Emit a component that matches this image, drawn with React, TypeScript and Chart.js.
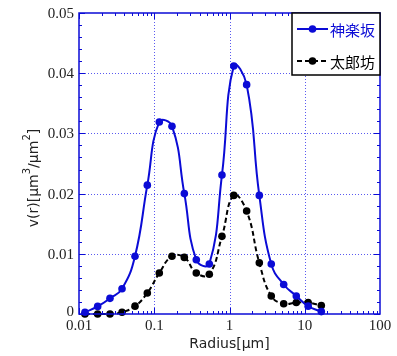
import React, { useEffect, useRef } from 'react';
import { Chart, registerables } from 'chart.js';
Chart.register(...registerables);

const radius = [0.012, 0.0177, 0.0258, 0.0373, 0.0555, 0.0809, 0.1167, 0.172, 0.251, 0.362, 0.539, 0.794, 1.14, 1.69, 2.49, 3.59, 5.25, 7.72, 11.1, 16.6];
const kagurazaka = [0.0003, 0.00126, 0.0026, 0.0042, 0.0096, 0.0214, 0.0319, 0.0312, 0.02, 0.009, 0.0083, 0.0231, 0.0412, 0.0381, 0.0197, 0.0083, 0.0049, 0.003, 0.0013, 0.0004];
const taroubou = [0.0, 0.0, 0.0, 0.0003, 0.0013, 0.0035, 0.0068, 0.0096, 0.0094, 0.0068, 0.0066, 0.0129, 0.0197, 0.0171, 0.0085, 0.003, 0.0017, 0.0019, 0.0019, 0.0014];
const seriesNames = ['神楽坂', '太郎坊'];
const xTicks = [0.01, 0.1, 1, 10, 100];
const xTickLabels = ['0.01', '0.1', '1', '10', '100'];
const yTicks = [0, 0.01, 0.02, 0.03, 0.04, 0.05];
const yTickLabels = ['0', '0.01', '0.02', '0.03', '0.04', '0.05'];

const BLUE = '#0b0bd6';
const GRID = '#5a5af0';
const SERIF = '"Liberation Serif", "DejaVu Serif", serif';
const SANS = '"DejaVu Sans", sans-serif';

const framePlugin = {
  id: 'frame',
  beforeDatasetsDraw(chart: any) {
    const { ctx, chartArea: a, scales } = chart;
    const x = scales.x, y = scales.y;
    ctx.save();
    ctx.strokeStyle = GRID;
    ctx.lineWidth = 1;
    ctx.setLineDash([1, 2]);
    for (const v of xTicks.slice(1, -1)) {
      const px = Math.round(x.getPixelForValue(v)) + 0.5;
      ctx.beginPath(); ctx.moveTo(px, a.top); ctx.lineTo(px, a.bottom); ctx.stroke();
    }
    for (const v of yTicks.slice(1, -1)) {
      const py = Math.round(y.getPixelForValue(v)) + 0.5;
      ctx.beginPath(); ctx.moveTo(a.left, py); ctx.lineTo(a.right, py); ctx.stroke();
    }
    ctx.restore();
  },
  afterDatasetsDraw(chart: any) {
    const { ctx, chartArea: a, scales } = chart;
    const x = scales.x, y = scales.y;
    ctx.save();
    ctx.setLineDash([]);
    ctx.strokeStyle = BLUE;
    ctx.lineWidth = 1.5;
    ctx.strokeRect(a.left, a.top, a.right - a.left, a.bottom - a.top);
    ctx.lineWidth = 1;
    for (let d = -2; d < 2; d++) {
      for (let m = 1; m <= 9; m++) {
        const v = m * Math.pow(10, d);
        const px = Math.round(x.getPixelForValue(v)) + 0.5;
        const len = m === 1 ? 6 : 3;
        ctx.beginPath();
        ctx.moveTo(px, a.bottom); ctx.lineTo(px, a.bottom - len);
        ctx.moveTo(px, a.top); ctx.lineTo(px, a.top + len);
        ctx.stroke();
      }
    }
    for (let i = 0; i <= 25; i++) {
      const v = i * 0.002;
      const py = Math.round(y.getPixelForValue(v)) + 0.5;
      const len = i % 5 === 0 ? 6 : 3;
      ctx.beginPath();
      ctx.moveTo(a.left, py); ctx.lineTo(a.left + len, py);
      ctx.moveTo(a.right, py); ctx.lineTo(a.right - len, py);
      ctx.stroke();
    }
    ctx.fillStyle = '#222';
    ctx.font = '15px ' + SERIF;
    ctx.textAlign = 'center';
    ctx.textBaseline = 'middle';
    xTicks.forEach((v, i) => {
      ctx.fillText(xTickLabels[i], x.getPixelForValue(v), a.bottom + 12);
    });
    ctx.textAlign = 'right';
    yTicks.forEach((v, i) => {
      const py = y.getPixelForValue(v);
      ctx.fillText(yTickLabels[i], a.left - 5, i === 0 ? py - 2 : py + 1);
    });
    ctx.fillStyle = '#222';
    ctx.font = '14px ' + SANS;
    ctx.textAlign = 'center';
    ctx.fillText('Radius[μm]', (x.getPixelForValue(1)), a.bottom + 30);
    const parts: [string, boolean][] = [['v(r)[μm', false], ['3', true], ['/μm', false], ['2', true], [']', false]];
    const fontN = '14px ' + SANS, fontS = '10px ' + SANS;
    let total = 0;
    for (const [t, s] of parts) { ctx.font = s ? fontS : fontN; total += ctx.measureText(t).width; }
    ctx.translate(34, 178);
    ctx.rotate(-Math.PI / 2);
    ctx.textAlign = 'left';
    let cx = -total / 2;
    for (const [t, s] of parts) {
      ctx.font = s ? fontS : fontN;
      ctx.fillText(t, cx, s ? -7 : 0);
      cx += ctx.measureText(t).width;
    }
    ctx.setTransform(1, 0, 0, 1, 0, 0);
    const lx = 292, ly = a.top, lw = a.right - lx, lh = 62;
    ctx.fillStyle = '#fff';
    ctx.fillRect(lx, ly, lw, lh);
    ctx.strokeStyle = '#000';
    ctx.lineWidth = 1.5;
    ctx.strokeRect(lx, ly, lw, lh);
    const entries = [
      { name: seriesNames[0], color: BLUE, dash: [] as number[], yy: ly + 16 },
      { name: seriesNames[1], color: '#000', dash: [5, 3], yy: ly + 48 },
    ];
    for (const e of entries) {
      ctx.strokeStyle = e.color;
      ctx.lineWidth = 2;
      ctx.setLineDash(e.dash);
      ctx.beginPath(); ctx.moveTo(297, e.yy); ctx.lineTo(328, e.yy); ctx.stroke();
      ctx.setLineDash([]);
      ctx.fillStyle = e.color;
      ctx.beginPath(); ctx.arc(312.5, e.yy, 3.8, 0, Math.PI * 2); ctx.fill();
      ctx.font = '15px "Noto Sans CJK JP", sans-serif';
      ctx.textAlign = 'left';
      ctx.fillText(e.name, 330, e.yy + 1);
    }
    ctx.restore();
  },
};

export default function App() {
  const ref = useRef<HTMLCanvasElement>(null);
  useEffect(() => {
    document.body.style.margin = '0';
    const chart = new Chart(ref.current!, {
      type: 'line',
      data: {
        datasets: [
          {
            label: seriesNames[0],
            data: radius.map((r, i) => ({ x: r, y: kagurazaka[i] })),
            borderColor: BLUE,
            backgroundColor: BLUE,
            borderWidth: 2,
            pointRadius: 3.8,
            pointBorderWidth: 0,
            tension: 0.45,
            clip: false as any,
          },
          {
            label: seriesNames[1],
            data: radius.map((r, i) => ({ x: r, y: taroubou[i] })),
            borderColor: '#000',
            backgroundColor: '#000',
            borderWidth: 2,
            borderDash: [5, 3],
            pointRadius: 3.8,
            pointBorderWidth: 0,
            tension: 0.45,
            clip: false as any,
          },
        ],
      },
      options: {
        animation: false,
        responsive: false,
        layout: { padding: { left: 79, right: 17, top: 13, bottom: 42 } },
        plugins: { legend: { display: false }, tooltip: { enabled: false } },
        scales: {
          x: { type: 'logarithmic', min: 0.01, max: 100, display: false },
          y: { type: 'linear', min: 0, max: 0.05, display: false },
        },
      },
      plugins: [framePlugin],
    });
    return () => chart.destroy();
  }, []);
  return (
    <div style={{ position: 'absolute', left: 0, top: 0, width: 397, height: 356 }}>
      <canvas ref={ref} width={397} height={356} />
    </div>
  );
}
